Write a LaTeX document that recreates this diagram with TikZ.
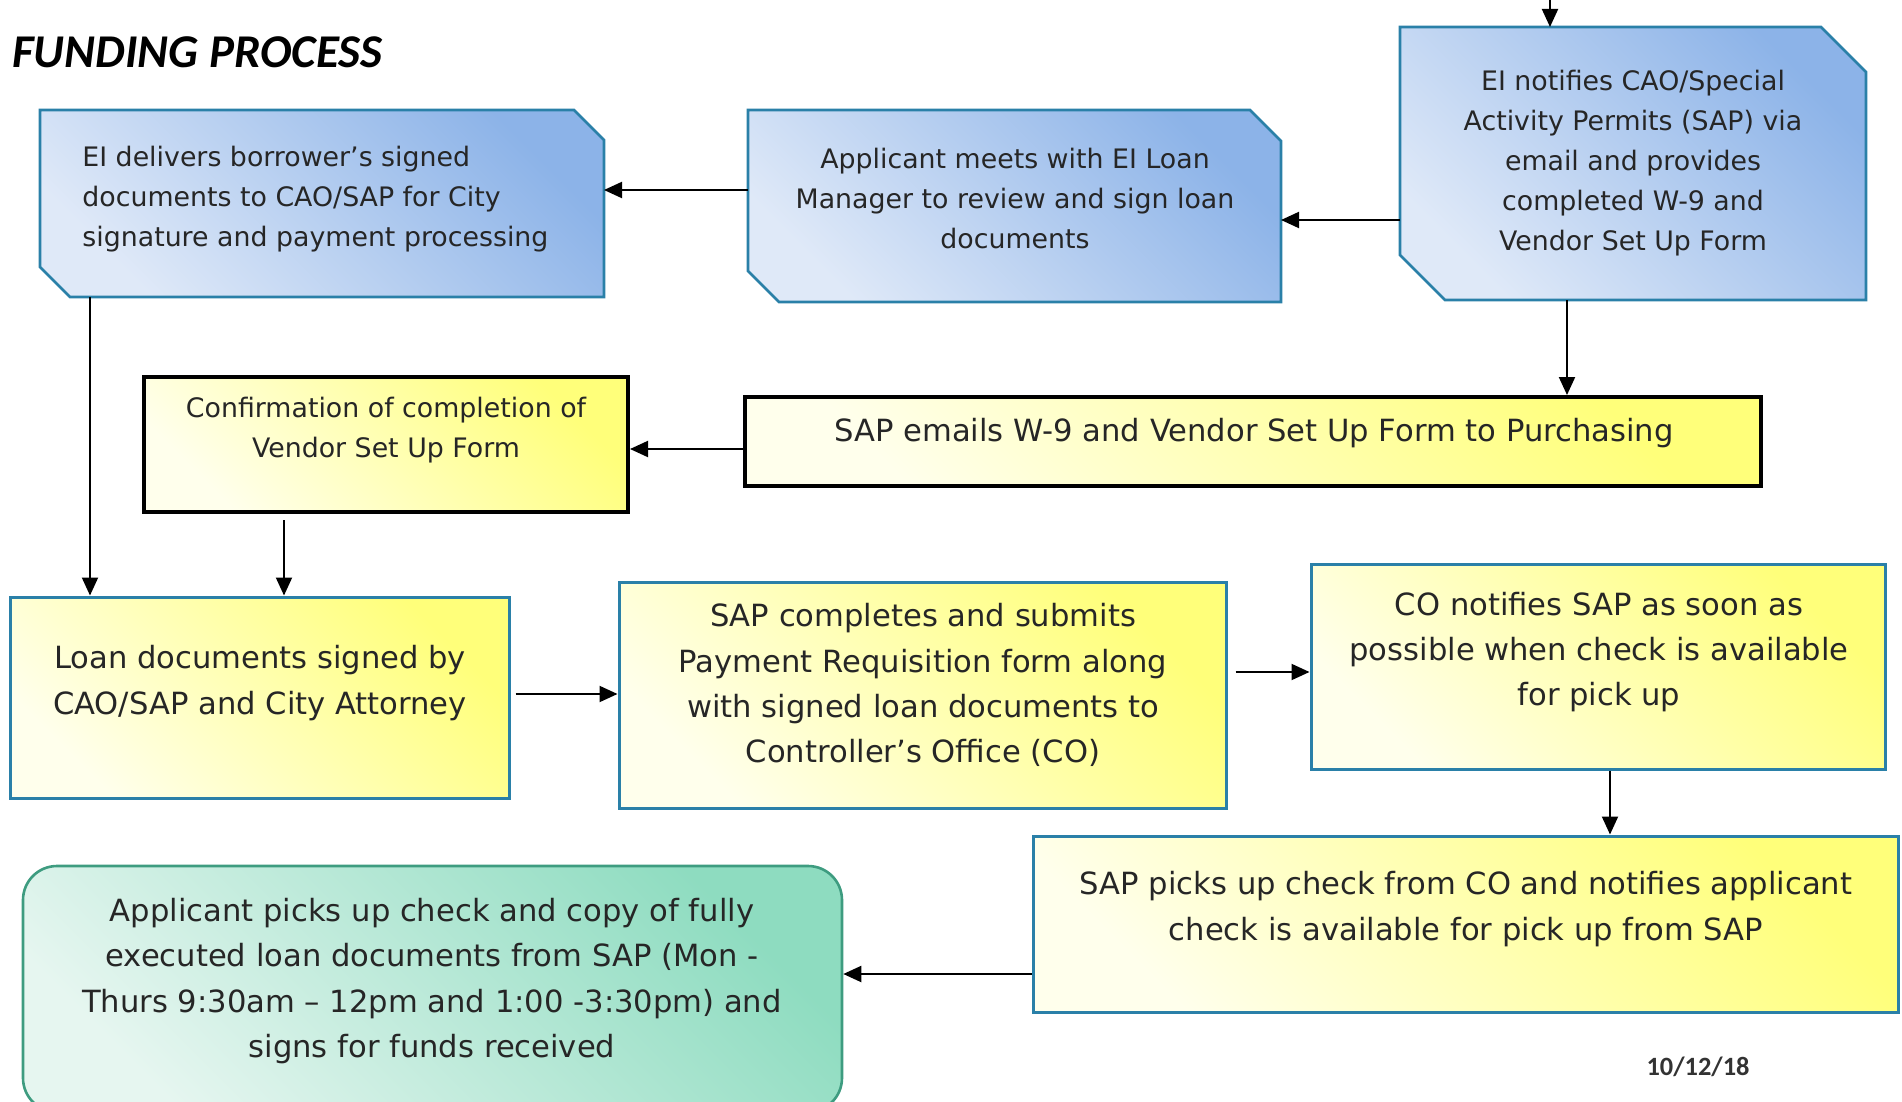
\documentclass[tikz,border=0pt]{standalone}
\usepackage{fontspec}
\setmainfont{DejaVu Sans}
\newfontfamily\titlefont{Carlito}
\usetikzlibrary{arrows.meta,calc}
\definecolor{bluedark}{HTML}{8CB3E8}
\definecolor{bluelight}{HTML}{DFE9F8}
\definecolor{yellowdark}{HTML}{FFFF7A}
\definecolor{yellowlight}{HTML}{FFFFEC}
\definecolor{greendark}{HTML}{8EDCC0}
\definecolor{greenlight}{HTML}{E6F6F0}
\definecolor{tealborder}{HTML}{2A80A8}
\definecolor{greenborder}{HTML}{3E9C80}
% chamfered outline (north east and south west corners) round a named node
\newcommand\chambox[2]{%
  \path[bluefill] (#1.north west) -- ($(#1.north east)+(-#2,0)$) -- ($(#1.north east)+(0,#2)$)
    -- (#1.south east) -- ($(#1.south west)+(#2,0)$) -- ($(#1.south west)+(0,-#2)$) -- cycle;}
\begin{document}
\begin{tikzpicture}[x=0.5pt,y=-0.5pt,
  conn/.style={draw=black,line width=1pt,-{Triangle[length=9pt,width=8pt]}},
  boxframe/.style={rectangle, inner sep=0pt, outer sep=0pt},
  bluefill/.style={draw=tealborder, line width=1.3pt,
    left color=bluelight, right color=bluedark, shading angle=135},
  yellowbox/.style={rectangle, draw=tealborder, line width=1.5pt, inner sep=0pt,
    left color=yellowlight, right color=yellowdark, shading angle=135},
  blackbox/.style={yellowbox, draw=black, line width=2pt},
  greenbox/.style={rectangle, rounded corners=17pt, draw=greenborder, line width=1.3pt,
    inner sep=0pt, left color=greenlight, right color=greendark, shading angle=135},
  smalltxt/.style={inner sep=0pt, align=center, text=black!85,
    font=\fontsize{13.4pt}{20pt}\selectfont},
  bigtxt/.style={inner sep=0pt, align=center, text=black!85,
    font=\fontsize{15.3pt}{22.6pt}\selectfont},
]
\useasboundingbox (0,0) rectangle (1902,1102);

% title and date
\node[anchor=base west, inner sep=0pt, font=\titlefont\bfseries\itshape\fontsize{23.5pt}{28pt}\selectfont]
  (title) at (12,68) {FUNDING PROCESS};
\node[inner sep=0pt, text=black!80, font=\titlefont\bfseries\fontsize{13.2pt}{16pt}\selectfont]
  (date) at (1698,1067) {10/12/18};

% blue chamfered boxes
\node[boxframe, minimum width=282pt, minimum height=93.5pt] (b1) at (322,203.5) {};
\node[boxframe, minimum width=266.5pt, minimum height=96pt] (b2) at (1014.5,206) {};
\node[boxframe, minimum width=233pt, minimum height=136.5pt] (b3) at (1633,163.5) {};
\chambox{b1}{30}
\chambox{b2}{31}
\chambox{b3}{45}

% other boxes
\node[blackbox, minimum width=508pt, minimum height=44.5pt] (em) at (1253,441.5) {};
\node[blackbox, minimum width=242pt, minimum height=67.5pt] (cf) at (386,444.5) {};
\node[yellowbox, minimum width=249.5pt, minimum height=100.5pt] (ln) at (259.5,697.5) {};
\node[yellowbox, minimum width=303.5pt, minimum height=113pt] (cp) at (922.5,695) {};
\node[yellowbox, minimum width=287pt, minimum height=102.5pt] (co) at (1598,666.5) {};
\node[yellowbox, minimum width=432.5pt, minimum height=88pt] (pk) at (1465.5,924) {};
\node[greenbox, minimum width=409.5pt, minimum height=123pt] (ap) at (432.5,989) {};

% texts
\node[smalltxt, align=left, anchor=west] (t1) at (82,199)
  {EI delivers borrower’s signed\\documents to CAO/SAP for City\\signature and payment processing};
\node[smalltxt] (t2) at (1015,199)
  {Applicant meets with EI Loan\\Manager to review and sign loan\\documents};
\node[smalltxt] (t3) at (1633,163)
  {EI notifies CAO/Special\\Activity Permits (SAP) via\\email and provides\\completed W-9 and\\Vendor Set Up Form};
\node[bigtxt] (t4) at (1254,433)
  {SAP emails W-9 and Vendor Set Up Form to Purchasing};
\node[smalltxt] (t5) at (386,430)
  {Confirmation of completion of\\Vendor Set Up Form};
\node[bigtxt] (t6) at (260,683)
  {Loan documents signed by\\CAO/SAP and City Attorney};
\node[bigtxt] (t7) at (923,685)
  {SAP completes and submits\\Payment Requisition form along\\with signed loan documents to\\Controller’s Office (CO)};
\node[bigtxt] (t8) at (1599,652)
  {CO notifies SAP as soon as\\possible when check is available\\for pick up};
\node[bigtxt] (t9) at (1466,909)
  {SAP picks up check from CO and notifies applicant\\check is available for pick up from SAP};
\node[bigtxt] (t10) at (432,981)
  {Applicant picks up check and copy of fully\\executed loan documents from SAP (Mon -\\Thurs 9:30am – 12pm and 1:00 -3:30pm) and\\signs for funds received};

% connectors
\coordinate (top) at (1550,-12);
\draw[conn] (top) -- (top |- b3.north);
\draw[conn] (b3.west |- 0,220) -- (b2.east |- 0,220);
\draw[conn] (b2.west |- 0,190) -- (b1.east |- 0,190);
\draw[conn] (1567,0 |- b3.south) -- (1567,0 |- em.north);
\draw[conn] (em.west |- 0,449) -- (cf.east |- 0,449);
\draw[conn] (90,0 |- b1.south) -- (90,0 |- ln.north);
\draw[conn, shorten <=3pt] (284,0 |- cf.south) -- (284,0 |- ln.north);
\draw[conn, shorten <=2.5pt] (ln.east |- 0,694) -- (cp.west |- 0,694);
\draw[conn, shorten <=4pt] (cp.east |- 0,672) -- (co.west |- 0,672);
\draw[conn] (1610,0 |- co.south) -- (1610,0 |- pk.north);
\draw[conn] (pk.west |- 0,974) -- (ap.east |- 0,974);
\end{tikzpicture}
\end{document}
